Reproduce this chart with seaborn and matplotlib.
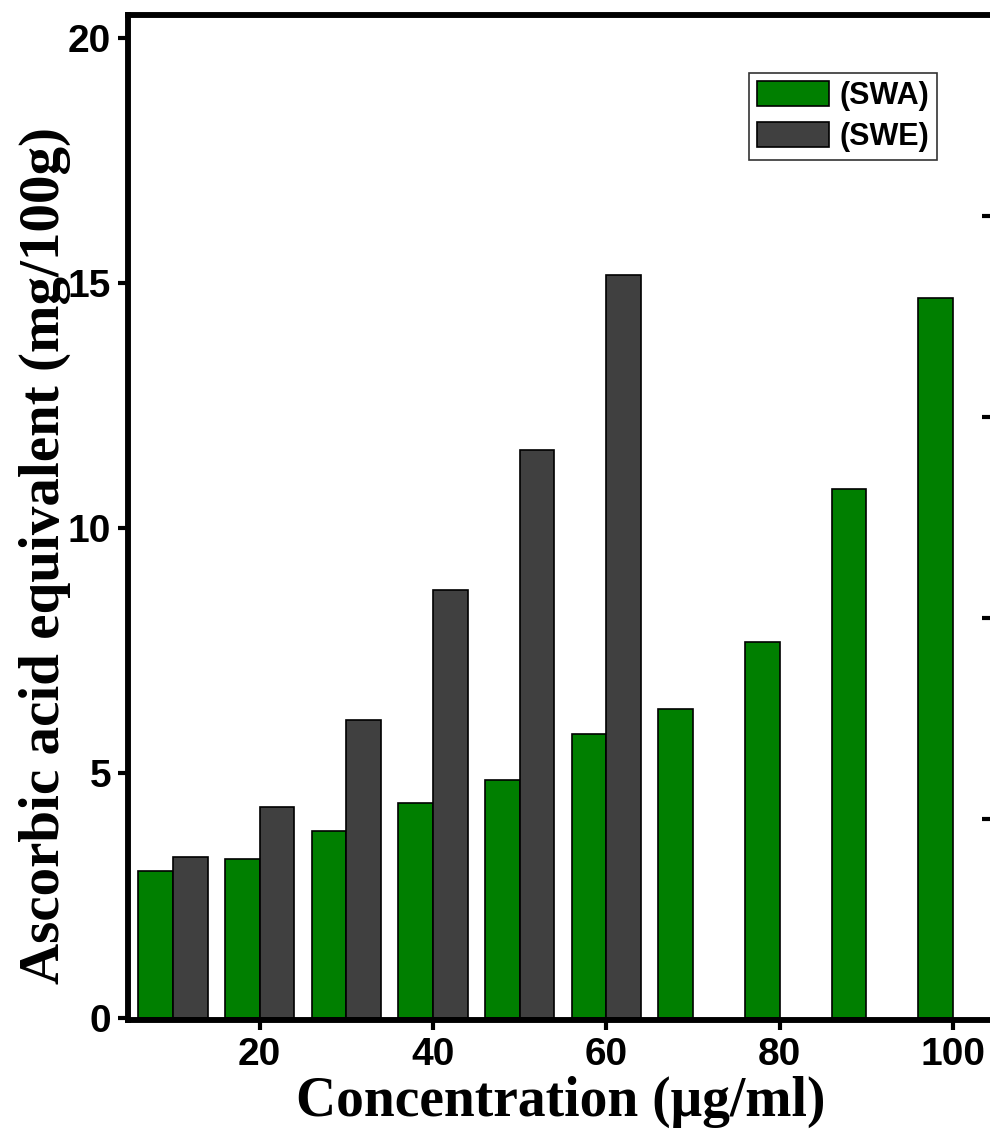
import pandas as pd
import numpy as np
import seaborn as sns
import matplotlib as mpl
import matplotlib.pyplot as plt

sns.set_style('ticks')
mpl.rcParams['font.family'] = ['Liberation Sans', 'DejaVu Sans']
mpl.rcParams['text.color'] = 'black'
mpl.rcParams['axes.labelcolor'] = 'black'
mpl.rcParams['axes.edgecolor'] = 'black'
mpl.rcParams['xtick.color'] = 'black'
mpl.rcParams['ytick.color'] = 'black'

# 데이터
conc = [10, 20, 30, 40, 50, 60, 70, 80, 90, 100]
swa = [3.00, 3.24, 3.82, 4.39, 4.86, 5.80, 6.31, 7.67, 10.80, 14.69]
swe = [3.29, 4.31, 6.08, 8.73, 11.59, 15.16, np.nan, np.nan, np.nan, np.nan]
groups = ['(SWA)', '(SWE)']
colors = ['#007f00', '#404040']

df = pd.DataFrame({
    'conc': conc * 2,
    'value': swa + swe,
    'group': [groups[0]] * len(conc) + [groups[1]] * len(conc),
})

fig = plt.figure(figsize=(9.9, 11.31), dpi=100)
ax = fig.add_axes([128 / 990, 111 / 1131, 865 / 990, 1005 / 1131])

sns.barplot(data=df, x='conc', y='value', hue='group', native_scale=True,
            palette=colors, edgecolor='black', linewidth=1.2, errorbar=None,
            dodge=True, width=0.8, saturation=1, ax=ax)

ax.set_xlim(4.8, 104.6)
ax.set_ylim(-0.04, 20.47)
ax.set_xticks([20, 40, 60, 80, 100])
ax.set_yticks([0, 5, 10, 15, 20])
for lab in ax.get_xticklabels() + ax.get_yticklabels():
    lab.set_fontweight('bold')
    lab.set_fontsize(28)
ax.tick_params(direction='out', length=7, width=3, pad=5)

for s in ax.spines.values():
    s.set_linewidth(4)
    s.set_visible(True)

ax.set_xlabel('Concentration (μg/ml)', family=['Liberation Serif', 'DejaVu Serif'],
              fontsize=40, fontweight='bold', labelpad=2)
ax.set_ylabel('Ascorbic acid equivalent (mg/100g)', family=['Liberation Serif', 'DejaVu Serif'],
              fontsize=41, fontweight='bold')
ax.yaxis.set_label_coords(-0.066, 0.462)

# 오른쪽 보조축 눈금
ax2 = ax.twinx()
ax2.set_ylim(0, 5)
ax2.set_yticks([1, 2, 3, 4])
ax2.set_yticklabels([])
ax2.tick_params(direction='in', length=8, width=3)
for s in ax2.spines.values():
    s.set_linewidth(4)

leg = ax.legend(loc='upper right', bbox_to_anchor=(0.935, 0.942), borderaxespad=0,
                frameon=True, fancybox=False, edgecolor='black',
                prop={'weight': 'bold', 'size': 22}, handlelength=2.35,
                handleheight=0.9, handletextpad=0.35, labelspacing=0.35,
                borderpad=0.25)
leg.get_frame().set_linewidth(1.2)

fig.savefig('out.png', dpi=100)
